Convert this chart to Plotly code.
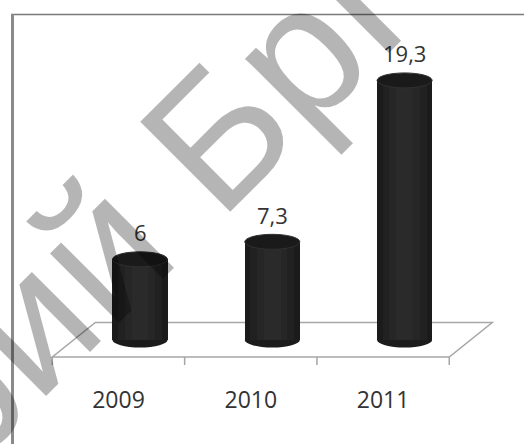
import plotly.graph_objects as go

# ---- data ----
years = ["2009", "2010", "2011"]
values = [6, 7.3, 19.3]
value_labels = [f"{v:g}".replace(".", ",") for v in values]
watermark_text = "рий БрГУ"

# ---- geometry / style constants ----
W, H = 524, 444
plot_h = 372                     # plot area height in px (margin below for labels)
px_per_x = 132.3                 # px per category step
px_per_y = 13.45                 # px per value unit
x_zero_px = 118.5                # px of first category (front edge)
y_zero_px = 340.0                # px of value 0 (bar base, mid-depth)
depth = 0.325                    # floor depth in x units
bar_off = depth / 2              # bars sit mid-depth
bar_w = 0.416
ell_r = 7.5 / px_per_y           # ellipse vertical radius in y units
y_front = -17.0 / px_per_y
y_back = 17.5 / px_per_y
y_tick = -25.0 / px_per_y

xr = [-x_zero_px / px_per_x, (W - x_zero_px) / px_per_x]
yr = [-(plot_h - y_zero_px) / px_per_y, y_zero_px / px_per_y]

xs = list(range(len(years)))
bx = [x + bar_off for x in xs]

fig = go.Figure()
# cylinder bodies: layered bars for a soft round shading
for w_frac, col in [(1.0, "#1b1b1b"), (0.8, "#212121"), (0.55, "#262626"), (0.3, "#2a2a2a")]:
    fig.add_trace(go.Bar(x=bx, y=values, width=bar_w * w_frac, marker_color=col,
                         marker_line_width=0, hoverinfo="skip", showlegend=False))

shapes = []
# floor
n = len(years)
x_l, x_r = -0.5, n - 0.5
floor = (f"M {x_l},{y_front} L {x_r},{y_front} L {x_r+depth},{y_back} "
         f"L {x_l+depth},{y_back} Z")
shapes.append(dict(type="path", path=floor, xref="x", yref="y", layer="below",
                   line=dict(color="#a6a6a6", width=1.5), fillcolor="rgba(0,0,0,0)"))
ticks = " ".join(f"M {x_l + k},{y_front} L {x_l + k},{y_tick}" for k in range(n + 1))
shapes.append(dict(type="path", path=ticks, xref="x", yref="y", layer="below",
                   line=dict(color="#a6a6a6", width=1.5)))
# cylinder bottoms and tops
for x, v in zip(bx, values):
    shapes.append(dict(type="circle", xref="x", yref="y", layer="below",
                       x0=x - bar_w / 2, x1=x + bar_w / 2, y0=-ell_r, y1=ell_r,
                       fillcolor="#1b1b1b", line=dict(width=0)))
    shapes.append(dict(type="circle", xref="x", yref="y", layer="above",
                       x0=x - bar_w / 2, x1=x + bar_w / 2, y0=v - ell_r, y1=v + ell_r,
                       fillcolor="#1a1a1a", line=dict(color="#303030", width=1)))

def py(p):
    return (plot_h - p) / plot_h

# frame
shapes.append(dict(type="line", xref="paper", yref="paper", x0=11 / W, x1=1.0,
                   y0=py(14.5), y1=py(14.5), line=dict(color="#7a7a7a", width=1.5)))
shapes.append(dict(type="line", xref="paper", yref="paper", x0=12.5 / W, x1=12.5 / W,
                   y0=py(14), y1=py(H), line=dict(color="#8a8a8a", width=3)))

annotations = []
for x, v, t in zip(bx, values, value_labels):
    annotations.append(dict(x=x, y=v, xref="x", yref="y", text=t, showarrow=False,
                            yanchor="bottom", yshift=10,
                            font=dict(family="Open Sans", size=22, color="#333333")))
annotations.append(dict(x=203.3 / W, y=py(147.7), xref="paper", yref="paper",
                        text=watermark_text, showarrow=False, textangle=-45,
                        xanchor="center", yanchor="middle",
                        font=dict(family="Liberation Sans", size=185,
                                  color="rgba(0,0,0,0.29)")))

fig.update_layout(
    width=W, height=H,
    margin=dict(l=0, r=0, t=0, b=H - plot_h, pad=0),
    paper_bgcolor="white", plot_bgcolor="white",
    barmode="overlay", bargap=0,
    xaxis=dict(range=xr, tickvals=xs, ticktext=years, showgrid=False, zeroline=False,
               showline=False, ticks="", ticklabelstandoff=12,
               tickfont=dict(family="Open Sans", size=23, color="#333333"), fixedrange=True),
    yaxis=dict(range=yr, visible=False, fixedrange=True),
    shapes=shapes, annotations=annotations, showlegend=False,
)

fig.write_html("out.html", config={"displayModeBar": False},
               post_script="document.body.style.margin='0';document.body.style.padding='0';")
